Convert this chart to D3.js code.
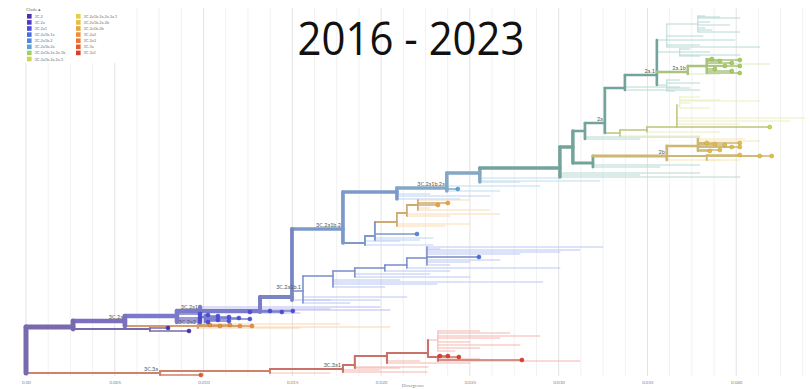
<!DOCTYPE html>
<html>
<head>
<meta charset="utf-8">
<script src="https://cdn.jsdelivr.net/npm/d3@7"></script>
<style>
  body { margin: 0; background: #fff; }
  svg { display: block; }
</style>
</head>
<body>
<div id="tree"></div>
<script>
// divergence ticks along the bottom
var divTicks = [0, 0.005, 0.010, 0.015, 0.020, 0.025, 0.030, 0.035, 0.040];
var tickLabels = ["0.00", "0.005", "0.010", "0.015", "0.020", "0.025", "0.030", "0.035", "0.040"];

// legend clades and their colours
var legendClades = ["3C.2", "3C.2a", "3C.2a1", "3C.2a1b.1a", "3C.2a1b.2", "3C.2a1b.2a",
  "3C.2a1b.2a.2a.1b", "3C.2a1b.2a.2a.3", "3C.2a1b.2a.2a.3a.1", "3C.2a1b.2a.2b",
  "3C.2a1b.2b", "3C.2a2", "3C.2a3", "3C.3a", "3C.3a1"];
var legendColors = ["#4a2fb0", "#5038c8", "#4a4de0", "#4a6ee2", "#4f88df", "#5aa2d6",
  "#a6cf5a", "#c9d64f", "#e2d047", "#e6bd43", "#eaa43c", "#ec8f38", "#eb7634", "#e75a2f", "#e03c2b"];
// backbone clades that are not in the legend
var otherClades = ["3C.2a1b", "3C.2a1b.2a.2"];
var otherColors = ["#4c62d4", "#3f9a8a"];

// nodes: id, parent, divergence, tip rank, clade, sampled 2016-2023 (1) or not (0)
var rootNodes = [["root", "", 0, 340, "3C.2", 0]];

var redNodes = [
  ["r1", "root", 0.00755, 363, "3C.3a", 0],
  ["r1t", "r1", 0.00985, 365, "3C.3a", 1],
  ["r2", "r1", 0.01374, 361, "3C.3a", 0],
  ["r2t", "r2", 0.01712, 363, "3C.3a", 0],
  ["r3", "r2", 0.01785, 359, "3C.3a1", 0],
  ["r3t1", "r3", 0.02258, 362, "3C.3a1", 0],
  ["r3t2", "r3", 0.01993, 360, "3C.3a1", 0],
  ["r4", "r3", 0.01852, 355, "3C.3a1", 0],
  ["r4t1", "r4", 0.02264, 357, "3C.3a1", 0],
  ["r4t2", "r4", 0.02106, 358, "3C.3a1", 0],
  ["r5", "r4", 0.02033, 346, "3C.3a1", 0],
  ["r5t1", "r5", 0.02500, 353, "3C.3a1", 0],
  ["r5t2", "r5", 0.02218, 351, "3C.3a1", 0],
  ["r6", "r5", 0.02264, 343, "3C.3a1", 0],
  ["r7", "r6", 0.02320, 347, "3C.3a1", 0],
  ["r7t0", "r7", 0.02331, 346, "3C.3a1", 1],
  ["r7t1", "r7", 0.02376, 346, "3C.3a1", 1],
  ["r7t2", "r7", 0.02438, 347, "3C.3a1", 1],
  ["r7t3", "r7", 0.02793, 350, "3C.3a1", 1],
  ["r7t4", "r7", 0.02556, 349, "3C.3a1", 0],
  ["r7t5", "r7", 0.03119, 351, "3C.3a1", 0],
  ["r8", "r6", 0.02320, 330, "3C.3a1", 0],
  ["r8t1", "r8", 0.02556, 321, "3C.3a1", 0],
  ["r8t2", "r8", 0.02725, 323, "3C.3a1", 0],
  ["r8t3", "r8", 0.02894, 326, "3C.3a1", 0],
  ["r8t4", "r8", 0.02669, 328, "3C.3a1", 0],
  ["r8t5", "r8", 0.02500, 332, "3C.3a1", 0],
  ["r8t6", "r8", 0.02782, 335, "3C.3a1", 0],
  ["r8t7", "r8", 0.02556, 338, "3C.3a1", 0],
  ["r8t8", "r8", 0.02416, 341, "3C.3a1", 0]
];

var purpleNodes = [
  ["p1", "root", 0.00265, 317, "3C.2", 0],
  ["p1a", "p1", 0.00698, 319, "3C.2", 0],
  ["p1t1", "p1a", 0.00800, 318, "3C.2", 1],
  ["p1t2", "p1a", 0.00918, 321, "3C.2", 1],
  ["p2", "p1", 0.00557, 311, "3C.2a", 0],
  ["o1", "p2", 0.00968, 316, "3C.2a2", 0],
  ["o1t1", "o1", 0.01036, 315, "3C.2a2", 1],
  ["o1t2", "o1", 0.01092, 316, "3C.2a2", 1],
  ["o1t3", "o1", 0.01149, 315, "3C.2a2", 1],
  ["o1t4", "o1", 0.01205, 316, "3C.2a2", 1],
  ["o1t5", "o1", 0.01273, 316, "3C.2a2", 1],
  ["o1t6", "o1", 0.02050, 317, "3C.2a2", 0],
  ["o1t7", "o1", 0.01543, 318, "3C.2a2", 0],
  ["o1t8", "o1", 0.01768, 314, "3C.2a2", 0],
  ["p3", "p2", 0.00850, 306, "3C.2a1", 0],
  ["p3t1", "p3", 0.00980, 304, "3C.2a1", 1],
  ["p3t2", "p3", 0.00980, 308, "3C.2a1", 1],
  ["p3t3", "p3", 0.00980, 310, "3C.2a1", 1],
  ["p3t4", "p3", 0.00980, 312, "3C.2a1", 1],
  ["p4", "p3", 0.00980, 301, "3C.2a1", 0],
  ["p4a", "p4", 0.01008, 307, "3C.2a1", 0],
  ["p4a1", "p4a", 0.01025, 305, "3C.2a1", 1],
  ["p4a2", "p4a", 0.01081, 306, "3C.2a1", 1],
  ["p4a3", "p4a", 0.01143, 307, "3C.2a1", 1],
  ["p4a4", "p4a", 0.01199, 308, "3C.2a1", 1],
  ["p4a5", "p4a", 0.01261, 309, "3C.2a1", 1],
  ["p4a6", "p4a", 0.01081, 310, "3C.2a1", 1],
  ["p4a7", "p4a", 0.01143, 311, "3C.2a1", 1],
  ["p4a8", "p4a", 0.01025, 312, "3C.2a1", 1],
  ["p4t1", "p4", 0.01261, 302, "3C.2a1", 1],
  ["p4t2", "p4", 0.01712, 299, "3C.2a1", 0],
  ["p4t3", "p4", 0.01993, 297, "3C.2a1", 0],
  ["p4t4", "p4", 0.01543, 303, "3C.2a1", 0],
  ["p5", "p4", 0.01318, 301, "3C.2a1", 0],
  ["p5t1", "p5", 0.01374, 301, "3C.2a1", 1],
  ["p5t2", "p5", 0.01441, 302, "3C.2a1", 1],
  ["p5t3", "p5", 0.01503, 301, "3C.2a1", 1],
  ["p5t4", "p5", 0.02050, 300, "3C.2a1", 0],
  ["b0", "p5", 0.01498, 287, "3C.2a1b", 0],
  ["b0t1", "b0", 0.01712, 290, "3C.2a1b", 0]
];

var blueNodes = [
  ["b1", "b0", 0.01560, 281, "3C.2a1b.1a", 0],
  ["b1t1", "b1", 0.02145, 287, "3C.2a1b.1a", 0],
  ["b1t2", "b1", 0.01993, 290, "3C.2a1b.1a", 0],
  ["b1t3", "b1", 0.01824, 293, "3C.2a1b.1a", 0],
  ["b1a", "b1", 0.01729, 266, "3C.2a1b.1a", 0],
  ["b1at1", "b1a", 0.02106, 270, "3C.2a1b.1a", 0],
  ["b1at2", "b1a", 0.02314, 274, "3C.2a1b.1a", 0],
  ["b1at3", "b1a", 0.02911, 272, "3C.2a1b.1a", 0],
  ["b1at4", "b1a", 0.02021, 277, "3C.2a1b.1a", 0],
  ["b1b", "b1a", 0.01852, 261, "3C.2a1b.1a", 0],
  ["b1bt1", "b1b", 0.02275, 264, "3C.2a1b.1a", 0],
  ["b1bt2", "b1b", 0.02500, 267, "3C.2a1b.1a", 0],
  ["b1c", "b1b", 0.02021, 258, "3C.2a1b.1a", 0],
  ["b1ct1", "b1c", 0.02387, 261, "3C.2a1b.1a", 0],
  ["b1d", "b1c", 0.02145, 255, "3C.2a1b.1a", 0],
  ["b1dt1", "b1d", 0.03007, 258, "3C.2a1b.1a", 0],
  ["b1e", "b1d", 0.02258, 248, "3C.2a1b.1a", 0],
  ["b1et1", "b1e", 0.02551, 247, "3C.2a1b.1a", 1],
  ["b1et2", "b1e", 0.03249, 237, "3C.2a1b.1a", 0],
  ["b1et3", "b1e", 0.03119, 240, "3C.2a1b.1a", 0],
  ["b1et4", "b1e", 0.03007, 242, "3C.2a1b.1a", 0],
  ["b1et5", "b1e", 0.02782, 244, "3C.2a1b.1a", 0],
  ["b1et6", "b1e", 0.02669, 250, "3C.2a1b.1a", 0],
  ["b1et7", "b1e", 0.02500, 252, "3C.2a1b.1a", 0],
  ["b1et8", "b1e", 0.02387, 255, "3C.2a1b.1a", 0],
  ["b1et9", "b1e", 0.02331, 239, "3C.2a1b.1a", 0]
];

var steelNodes = [
  ["b2", "b0", 0.01785, 219, "3C.2a1b.2", 0],
  ["b2x", "b2", 0.02089, 182, "3C.2a1b.2", 0],
  ["b2xt1", "b2x", 0.02613, 186, "3C.2a1b.2", 0],
  ["b2xt2", "b2x", 0.02444, 189, "3C.2a1b.2", 0],
  ["b2xt3", "b2x", 0.02275, 184, "3C.2a1b.2", 0],
  ["b2a", "b2x", 0.02370, 178, "3C.2a1b.2a", 0],
  ["b2at1", "b2a", 0.02432, 179, "3C.2a1b.2a", 1],
  ["b2at2", "b2a", 0.02894, 176, "3C.2a1b.2a", 0],
  ["b2at3", "b2a", 0.02669, 181, "3C.2a1b.2a", 0],
  ["b3", "b2a", 0.02556, 163, "3C.2a1b.2a", 0],
  ["b3t1", "b3", 0.03007, 168, "3C.2a1b.2a", 0],
  ["b3t2", "b3", 0.03232, 171, "3C.2a1b.2a", 0],
  ["b3t3", "b3", 0.02782, 172, "3C.2a1b.2a", 0],
  ["b4", "b3", 0.03007, 158, "3C.2a1b.2a.2", 0],
  ["b4t1", "b4", 0.03795, 163, "3C.2a1b.2a.2", 0],
  ["b4t2", "b4", 0.03457, 165, "3C.2a1b.2a.2", 0],
  ["b4t3", "b4", 0.04020, 167, "3C.2a1b.2a.2", 0]
];

var orangeNodes = [
  ["c1", "b2", 0.01909, 233, "3C.2a1b.2", 0],
  ["c1t1", "c1", 0.02292, 235, "3C.2a1b.2", 0],
  ["c1t2", "c1", 0.02106, 231, "3C.2a1b.2", 0],
  ["c2", "c1", 0.01965, 226, "3C.2a1b.2", 0],
  ["c2t1", "c2", 0.02202, 224, "3C.2a1b.2", 1],
  ["c2t2", "c2", 0.02292, 228, "3C.2a1b.2", 0],
  ["c2t3", "c2", 0.02218, 230, "3C.2a1b.2", 0],
  ["c3", "c2", 0.02089, 212, "3C.2a1b.2b", 0],
  ["c3t1", "c3", 0.02359, 216, "3C.2a1b.2b", 0],
  ["c3t2", "c3", 0.02500, 214, "3C.2a1b.2b", 0],
  ["c4", "c3", 0.02145, 203, "3C.2a1b.2b", 0],
  ["c4t1", "c4", 0.02669, 204, "3C.2a1b.2b", 0],
  ["c4t2", "c4", 0.02387, 206, "3C.2a1b.2b", 0],
  ["c5", "c4", 0.02207, 195, "3C.2a1b.2b", 0],
  ["c5t1", "c5", 0.02320, 195, "3C.2a1b.2b", 1],
  ["c5t2", "c5", 0.02376, 193, "3C.2a1b.2b", 1],
  ["c5t3", "c5", 0.02275, 198, "3C.2a1b.2b", 0],
  ["c5t4", "c5", 0.02500, 190, "3C.2a1b.2b", 0],
  ["c5t5", "c5", 0.02613, 200, "3C.2a1b.2b", 0]
];

var tealNodes = [
  ["b5", "b4", 0.03080, 137, "3C.2a1b.2a.2", 0],
  ["b6", "b5", 0.03148, 121, "3C.2a1b.2a.2", 0],
  ["b6t1", "b6", 0.03795, 127, "3C.2a1b.2a.2", 0],
  ["b6t2", "b6", 0.03457, 129, "3C.2a1b.2a.2", 0],
  ["g2a", "b6", 0.03260, 113, "3C.2a1b.2a.2", 0],
  ["g_a", "g2a", 0.03373, 78, "3C.2a1b.2a.2", 0],
  ["g_at1", "g_a", 0.03795, 80, "3C.2a1b.2a.2", 0],
  ["g_at2", "g_a", 0.03682, 77, "3C.2a1b.2a.2", 0],
  ["g2a1", "g_a", 0.03553, 65, "3C.2a1b.2a.2", 0],
  ["gn1", "g2a1", 0.03609, 30, "3C.2a1b.2a.2", 0],
  ["gn1t1", "gn1", 0.03812, 26, "3C.2a1b.2a.2", 0],
  ["gn1t2", "gn1", 0.03992, 30, "3C.2a1b.2a.2", 0],
  ["gn1t3", "gn1", 0.03795, 35, "3C.2a1b.2a.2", 0],
  ["gn1t4", "gn1", 0.04133, 37, "3C.2a1b.2a.2", 0],
  ["gn1a", "gn1", 0.03784, 14, "3C.2a1b.2a.2", 0],
  ["gn1a1", "gn1a", 0.03823, 6, "3C.2a1b.2a.2", 0],
  ["gn1a2", "gn1a", 0.03908, 7, "3C.2a1b.2a.2", 0],
  ["gn1a3", "gn1a", 0.04020, 8, "3C.2a1b.2a.2", 0],
  ["gn1a4", "gn1a", 0.03851, 12, "3C.2a1b.2a.2", 0],
  ["gn1a5", "gn1a", 0.03964, 15, "3C.2a1b.2a.2", 0],
  ["gn1a6", "gn1a", 0.03823, 18, "3C.2a1b.2a.2", 0],
  ["gn1a7", "gn1a", 0.03863, 20, "3C.2a1b.2a.2", 0],
  ["gn1a8", "gn1a", 0.04020, 22, "3C.2a1b.2a.2", 0],
  ["gn2", "g2a1", 0.03682, 42, "3C.2a1b.2a.2", 0],
  ["gn2t1", "gn2", 0.03739, 39, "3C.2a1b.2a.2", 0],
  ["gn2t2", "gn2", 0.03851, 42, "3C.2a1b.2a.2", 0],
  ["gn2t3", "gn2", 0.04020, 45, "3C.2a1b.2a.2", 0],
  ["gn2t4", "gn2", 0.03795, 46, "3C.2a1b.2a.2", 0],
  ["gn3", "g2a1", 0.03609, 75, "3C.2a1b.2a.2", 0],
  ["gn3t1", "gn3", 0.03682, 70, "3C.2a1b.2a.2", 0],
  ["gn3t2", "gn3", 0.03795, 73, "3C.2a1b.2a.2", 0],
  ["gn3t3", "gn3", 0.03739, 78, "3C.2a1b.2a.2", 0],
  ["gn3t4", "gn3", 0.03654, 81, "3C.2a1b.2a.2", 0],
  ["z1", "b5", 0.03193, 153, "3C.2a1b.2a.2", 0],
  ["z1t1", "z1", 0.03795, 155, "3C.2a1b.2a.2", 0],
  ["z1t2", "z1", 0.03570, 157, "3C.2a1b.2a.2", 0]
];

var greenNodes = [
  ["g2a1b", "g2a1", 0.03727, 62, "3C.2a1b.2a.2a.1b", 0],
  ["g2a1bt1", "g2a1b", 0.03908, 64, "3C.2a1b.2a.2a.1b", 0],
  ["gg1", "g2a1b", 0.03834, 56, "3C.2a1b.2a.2a.1b", 0],
  ["gg1t1", "gg1", 0.03863, 49, "3C.2a1b.2a.2a.1b", 1],
  ["gg1t2", "gg1", 0.03908, 51, "3C.2a1b.2a.2a.1b", 1],
  ["gg1t3", "gg1", 0.03975, 53, "3C.2a1b.2a.2a.1b", 1],
  ["gg1t4", "gg1", 0.04020, 50, "3C.2a1b.2a.2a.1b", 1],
  ["gg1t5", "gg1", 0.03936, 56, "3C.2a1b.2a.2a.1b", 1],
  ["gg1t6", "gg1", 0.04020, 56, "3C.2a1b.2a.2a.1b", 1],
  ["gg1t7", "gg1", 0.03880, 59, "3C.2a1b.2a.2a.1b", 1],
  ["gg1t8", "gg1", 0.03975, 61, "3C.2a1b.2a.2a.1b", 1],
  ["gg1t9", "gg1", 0.04020, 63, "3C.2a1b.2a.2a.1b", 1],
  ["gg1t10", "gg1", 0.04189, 54, "3C.2a1b.2a.2a.1b", 0]
];

var yellowNodes = [
  ["y3", "g2a", 0.03345, 123, "3C.2a1b.2a.2a.3", 0],
  ["y3t1", "y3", 0.03795, 126, "3C.2a1b.2a.2a.3", 0],
  ["y3a", "y3", 0.03497, 120, "3C.2a1b.2a.2a.3", 0],
  ["y3t2", "y3a", 0.03908, 122, "3C.2a1b.2a.2a.3", 0],
  ["y3b", "y3a", 0.03666, 117, "3C.2a1b.2a.2a.3", 0],
  ["y3b1", "y3b", 0.04189, 117, "3C.2a1b.2a.2a.3", 1],
  ["y3b2", "y3b", 0.04386, 108, "3C.2a1b.2a.2a.3", 0],
  ["y3b3", "y3b", 0.04302, 111, "3C.2a1b.2a.2a.3", 0],
  ["y3b4", "y3b", 0.04020, 114, "3C.2a1b.2a.2a.3", 0],
  ["y3c", "y3b", 0.03682, 95, "3C.2a1b.2a.2a.3", 0],
  ["y3c1", "y3c", 0.03795, 87, "3C.2a1b.2a.2a.3", 0],
  ["y3c2", "y3c", 0.03908, 90, "3C.2a1b.2a.2a.3", 0],
  ["y3c3", "y3c", 0.03739, 93, "3C.2a1b.2a.2a.3", 0],
  ["y3c4", "y3c", 0.03851, 98, "3C.2a1b.2a.2a.3", 0],
  ["y3c5", "y3c", 0.04133, 91, "3C.2a1b.2a.2a.3", 0],
  ["z2b", "z1", 0.03609, 146, "3C.2a1b.2a.2b", 0],
  ["z2bt1", "z2b", 0.03908, 150, "3C.2a1b.2a.2b", 0],
  ["z3", "z2b", 0.03784, 136, "3C.2a1b.2a.2b", 0],
  ["z3t1", "z3", 0.03834, 133, "3C.2a1b.2a.2b", 1],
  ["z3t2", "z3", 0.03880, 134, "3C.2a1b.2a.2b", 1],
  ["z3t3", "z3", 0.03936, 135, "3C.2a1b.2a.2b", 1],
  ["z3t4", "z3", 0.03975, 137, "3C.2a1b.2a.2b", 1],
  ["z3t5", "z3", 0.04020, 133, "3C.2a1b.2a.2b", 1],
  ["z3t6", "z3", 0.04020, 137, "3C.2a1b.2a.2b", 1],
  ["z3t7", "z3", 0.03908, 140, "3C.2a1b.2a.2b", 1],
  ["z3t8", "z3", 0.03851, 141, "3C.2a1b.2a.2b", 1],
  ["z3t9", "z3", 0.04048, 129, "3C.2a1b.2a.2b", 0],
  ["z3t10", "z3", 0.04133, 131, "3C.2a1b.2a.2b", 0],
  ["z4", "z2b", 0.03834, 146, "3C.2a1b.2a.2b", 0],
  ["z4t1", "z4", 0.04020, 145, "3C.2a1b.2a.2b", 1],
  ["z4t2", "z4", 0.04133, 146, "3C.2a1b.2a.2b", 1],
  ["z4t3", "z4", 0.04200, 146, "3C.2a1b.2a.2b", 1],
  ["z4t4", "z4", 0.04020, 150, "3C.2a1b.2a.2b", 0]
];

// clade labels shown on branches
var branchLabels = [
  ["r1", "3C.3a"], ["r3", "3C.3a1"], ["p2", "3C.2a"], ["o1", "3C.2a2"], ["p4", "3C.2a1"],
  ["b1", "3C.2a1b.1"], ["b2", "3C.2a1b.2"], ["b2a", "3C.2a1b.2a"], ["g2a", "2a"],
  ["g2a1", "2a.1"], ["g2a1b", "2a.1b"], ["z2b", "2b"]
];

var width = 810, height = 389;

var svg = d3.select("#tree")
  .append("svg")
    .attr("width", width)
    .attr("height", height);

var x = d3.scaleLinear().domain([0, 0.045]).range([26, 825]);
var y = d3.scaleLinear().domain([0, 365]).range([10, 375]);

var colorOf = d3.scaleOrdinal()
  .domain(legendClades.concat(otherClades))
  .range(legendColors.concat(otherColors));

// Grid lines, major every 0.005 and minor every quarter of that
var minor = d3.range(0, 0.0451, 0.00125);
svg.append("g").selectAll("line")
  .data(minor)
  .enter()
  .append("line")
    .attr("x1", function(d) { return x(d); })
    .attr("x2", function(d) { return x(d); })
    .attr("y1", 8)
    .attr("y2", 376)
    .attr("stroke", function(d) { return Math.abs(d / 0.005 - Math.round(d / 0.005)) < 1e-6 ? "#e3e3e3" : "#f1f1f1"; })
    .attr("stroke-width", 1);

// Build the tree
var rows = [].concat(rootNodes, redNodes, purpleNodes, blueNodes, steelNodes, orangeNodes, tealNodes, greenNodes, yellowNodes)
  .map(function(r) {
    return {id: r[0], parent: r[1] || null, div: r[2], rank: r[3], clade: r[4], vis: r[5]};
  });
var root = d3.stratify()
  .id(function(d) { return d.id; })
  .parentId(function(d) { return d.parent; })(rows);
root.sum(function(d) { return d.vis; });

var widthScale = d3.scaleSqrt().domain([0, root.value]).range([1, 5]);

// highlighted branches are greyed a little, others are washed out
function branchColor(n) {
  var c = colorOf(n.data.clade);
  return n.value > 0 ? d3.interpolateRgb(c, "#b0b0b0")(0.46) : d3.interpolateRgb(c, "#ffffff")(0.62);
}
function branchWidth(n) {
  return n.value > 0 ? widthScale(n.value) : 1;
}

var nodes = root.descendants();
// faint branches first, then the highlighted ones on top, thin before thick
var order = nodes.slice().sort(function(a, b) {
  return (a.value > 0) - (b.value > 0) || a.value - b.value;
});

var branches = svg.append("g").attr("fill", "none").attr("stroke-linecap", "round");

order.forEach(function(n) {
  var col = branchColor(n);
  var w = branchWidth(n);
  if (n.parent) {
    branches.append("path")
      .attr("d", "M" + x(n.parent.data.div) + "," + y(n.data.rank) + "H" + x(n.data.div))
      .attr("stroke", col)
      .attr("stroke-width", w);
  }
  if (n.children) {
    var ext = d3.extent(n.children, function(c) { return c.data.rank; });
    branches.append("path")
      .attr("d", "M" + x(n.data.div) + "," + y(ext[0]) + "V" + y(ext[1]))
      .attr("stroke", col)
      .attr("stroke-width", w);
  }
});

// Tips sampled in the window
svg.append("g").selectAll("circle")
  .data(root.leaves().filter(function(d) { return d.data.vis === 1; }))
  .enter()
  .append("circle")
    .attr("cx", function(d) { return x(d.data.div); })
    .attr("cy", function(d) { return y(d.data.rank); })
    .attr("r", 2)
    .attr("fill", function(d) { return colorOf(d.data.clade); })
    .attr("stroke", function(d) { return d3.color(colorOf(d.data.clade)).darker(0.6); })
    .attr("stroke-width", 0.5);

// Clade labels
var byId = new Map(nodes.map(function(n) { return [n.id, n]; }));
svg.append("g").selectAll("text")
  .data(branchLabels)
  .enter()
  .append("text")
    .attr("x", function(d) { return x(byId.get(d[0]).data.div) - 2; })
    .attr("y", function(d) { return y(byId.get(d[0]).data.rank) - 2.5; })
    .attr("text-anchor", "end")
    .style("font-family", "Lato, sans-serif")
    .style("font-size", "5.5px")
    .style("fill", "#555")
    .text(function(d) { return d[1]; });

// Divergence axis
var axis = svg.append("g")
  .attr("transform", "translate(0,378)")
  .call(d3.axisBottom(x).tickValues(divTicks).tickSize(0).tickFormat(function(d, i) { return tickLabels[i]; }));
axis.select(".domain").remove();
axis.selectAll("text")
  .style("font-family", "Lato, sans-serif")
  .style("font-size", "4.5px")
  .style("fill", "#888");

svg.append("text")
  .attr("x", 413)
  .attr("y", 387)
  .attr("text-anchor", "middle")
  .style("font-family", "Lato, sans-serif")
  .style("font-size", "4.5px")
  .style("fill", "#888")
  .text("Divergence");

// Legend
svg.append("rect")
  .attr("x", 18).attr("y", 0)
  .attr("width", 112).attr("height", 63)
  .attr("fill", "#fff");

svg.append("text")
  .attr("x", 26)
  .attr("y", 11)
  .style("font-family", "Lato, sans-serif")
  .style("font-size", "4.5px")
  .style("fill", "#777")
  .text("Clade \u25B4");

var legend = svg.append("g").selectAll("g")
  .data(legendClades)
  .enter()
  .append("g")
    .attr("transform", function(d, i) {
      return "translate(" + (i < 8 ? 27 : 76) + "," + (14 + (i % 8) * 6.1) + ")";
    });
legend.append("rect")
  .attr("width", 4.6)
  .attr("height", 4.6)
  .attr("fill", function(d, i) { return legendColors[i]; });
legend.append("text")
  .attr("x", 7.5)
  .attr("y", 3.8)
  .style("font-family", "Lato, sans-serif")
  .style("font-size", "4px")
  .style("fill", "#777")
  .text(function(d) { return d; });

// Title
svg.append("text")
  .attr("x", 411)
  .attr("y", 55)
  .attr("text-anchor", "middle")
  .attr("textLength", 227)
  .attr("lengthAdjust", "spacingAndGlyphs")
  .style("font-family", "'Open Sans', 'Liberation Sans', sans-serif")
  .style("font-size", "45px")
  .style("fill", "#111")
  .text("2016 - 2023");
</script>
</body>
</html>
